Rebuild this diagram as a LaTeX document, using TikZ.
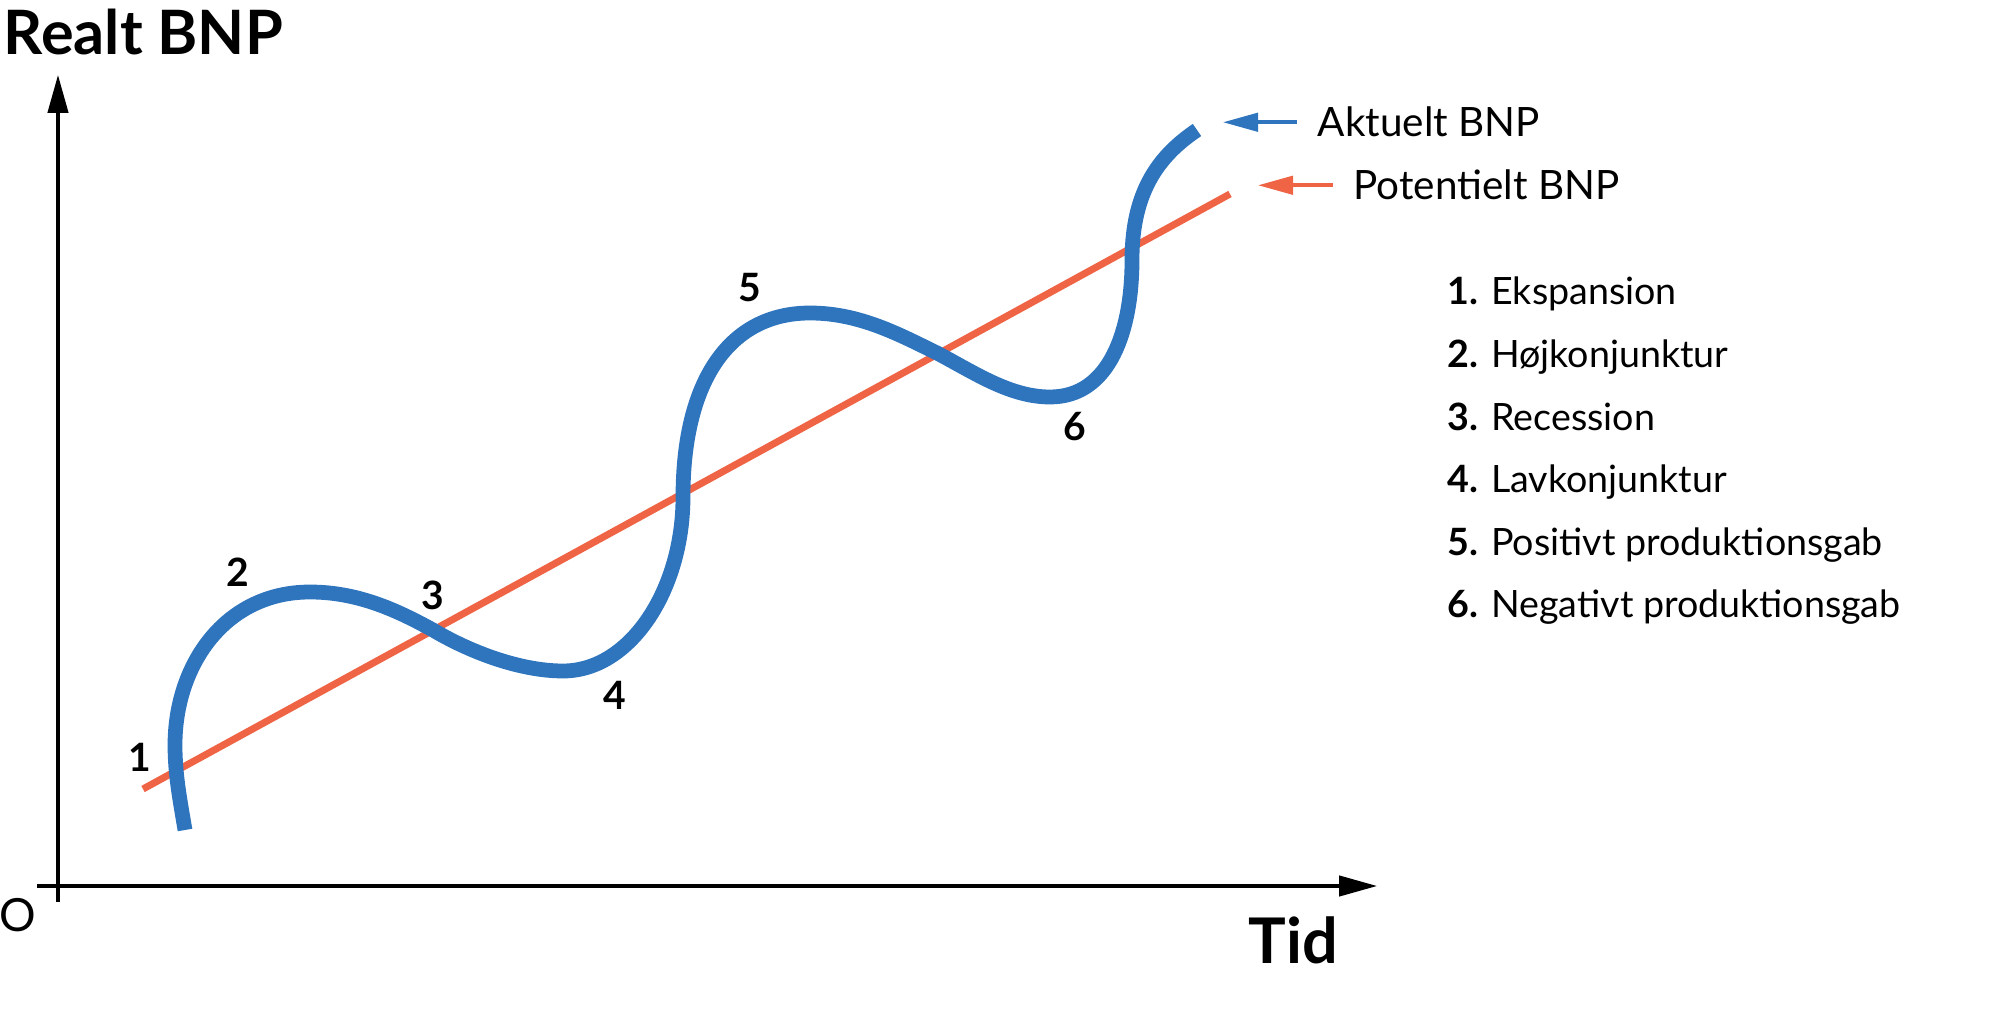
\documentclass[tikz,border=0pt]{standalone}
\usepackage{fontspec}
\setmainfont{Lato}
\usetikzlibrary{arrows.meta}
\definecolor{bnpblue}{RGB}{46,117,190}
\definecolor{bnporange}{RGB}{240,100,70}

\begin{document}
\begin{tikzpicture}[x=0.01cm, y=-0.01cm,
  axis/.style={line width=0.9pt, -{Triangle[length=10.8pt, width=5.8pt]}},
  legarrow/.style={line width=1.1pt, -{Triangle[length=10pt, width=5.2pt]}},
  bigtxt/.style={font=\fontsize{17.4}{20}\selectfont\bfseries, inner sep=0, anchor=base west},
  legtxt/.style={font=\fontsize{11.5}{13}\selectfont, inner sep=0, anchor=base west},
  listtxt/.style={font=\fontsize{10.7}{12}\selectfont, inner sep=0, anchor=base west},
  numlbl/.style={font=\fontsize{11.1}{13}\selectfont\bfseries, inner sep=0}]
  \useasboundingbox (0,0) rectangle (2000,1022);

  % akser
  \coordinate (ybund) at (58,902);
  \coordinate (ytop) at (58,75);
  \coordinate (xstart) at (37,886);
  \coordinate (xslut) at (1377,886);
  \draw[axis] (ybund) -- (ytop);
  \draw[axis] (xstart) -- (xslut);
  \node[bigtxt] (ylabel) at (3,55) {Realt BNP};
  \node[bigtxt, font=\fontsize{17.9}{20}\selectfont\bfseries] (xlabel) at (1248,963) {Tid};
  \node[font=\fontsize{13}{15}\selectfont, inner sep=0] (origo) at (18,915) {O};

  % potentielt BNP (trend)
  \coordinate (pot0) at (143,789);
  \coordinate (pot1) at (1230,194);
  \draw[bnporange, line width=2pt] (pot0) -- (pot1);

  % aktuelt BNP (konjunkturbølge)
  \draw[bnpblue, line width=4.2pt]
    (185,830) .. controls (180,800) and (175,775) .. (175,745)
    .. controls (175,665) and (225,592) .. (310,592)
    .. controls (360,592) and (400,612) .. (433,630)
    .. controls (470,652) and (520,671) .. (563,671)
    .. controls (630,671) and (683,590) .. (683,497)
    .. controls (683,380) and (730,313) .. (810,313)
    .. controls (860,313) and (900,335) .. (937,353)
    .. controls (975,373) and (1010,397) .. (1050,397)
    .. controls (1110,397) and (1132,330) .. (1132,260)
    .. controls (1132,190) and (1160,155) .. (1197,130);

  % faser på kurven
  \foreach \i/\x/\y in {1/140/757, 2/238/572, 3/433/595, 4/615/695, 5/750/288, 6/1075/427} {
    \node[numlbl] (fase\i) at (\x,\y) {\i};
  }

  % forklaring med pile
  \node[legtxt] (akt) at (1317,137) {Aktuelt BNP};
  \node[legtxt] (pot) at (1353,200) {Potentielt BNP};
  \coordinate (akttip) at ([xshift=-0.94cm]akt.west);
  \coordinate (pottip) at ([xshift=-0.95cm]pot.west);
  \draw[legarrow, bnpblue] ([xshift=-0.2cm]akt.west) -- (akttip);
  \draw[legarrow, bnporange] ([xshift=-0.2cm]pot.west) -- (pottip);

  % liste over faser
  \foreach \i/\txt in {1/Ekspansion, 2/Højkonjunktur, 3/Recession, 4/Lavkonjunktur,
                       5/Positivt produktionsgab, 6/Negativt produktionsgab} {
    \node[listtxt] (liste\i) at (1447, {305+62.6*(\i-1)}) {\textbf{\i.} \txt};
  }
\end{tikzpicture}
\end{document}
